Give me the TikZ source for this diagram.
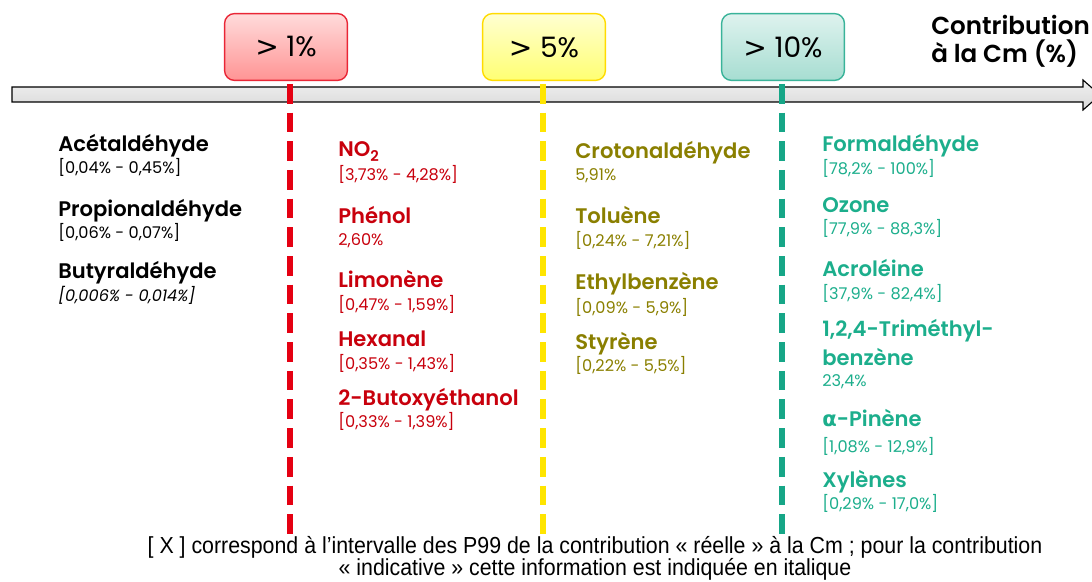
\documentclass[tikz,border=0pt]{standalone}
\usepackage{fontspec}
\setmainfont{Poppins}[BoldFont={Poppins SemiBold}]
\newfontfamily\notefont[FakeStretch=0.92]{Liberation Sans}
\newfontfamily\grecfont{DejaVu Sans}
\usetikzlibrary{positioning}

\definecolor{rougetrait}{HTML}{E50012}
\definecolor{rougetexte}{HTML}{C8000C}
\definecolor{jaunetrait}{HTML}{FFE500}
\definecolor{olivetexte}{HTML}{8A7F00}
\definecolor{verttrait}{HTML}{16A687}
\definecolor{verttexte}{HTML}{1CAE8C}

\begin{document}
\begin{tikzpicture}[x=0.025cm,y=-0.025cm]
	\tikzstyle{seuil}=[draw,line width=1pt,rounded corners=7pt,minimum width=3.07cm,minimum height=1.67cm,font=\fontsize{20}{24}\selectfont]
	\tikzstyle{nom}=[anchor=base west,inner sep=0pt,font=\bfseries\fontsize{15}{18}\selectfont]
	\tikzstyle{titre}=[anchor=base west,inner sep=0pt,font=\bfseries\fontsize{17.5}{21}\selectfont]
	\tikzstyle{val}=[anchor=base west,inner sep=0pt,font=\fontsize{11.5}{13}\selectfont]
	\tikzstyle{limite}=[line width=4.2pt,dash pattern=on 14pt off 6.4pt]
	\tikzstyle{note}=[anchor=base,inner sep=0pt,font=\notefont\fontsize{16.5}{19}\selectfont]
	
	\useasboundingbox (0,0) rectangle (1092,582);
	
	% axe
	\path[draw=black,line width=0.8pt,top color=gray!12,bottom color=gray!30]
		(12,87) -- (1083,87) -- (1083,80) -- (1100,95) -- (1083,110) -- (1083,102) -- (12,102) -- cycle;
	\node[titre] (t1) at (931,35) {Contribution};
	\node[titre] (t2) at (931,63) {à la Cm (\%)};
	
	% seuils
	\node[seuil,draw=rougetrait!85,top color=red!14,bottom color=red!42] (s1) at (286,47) {{\grecfont >} 1\%};
	\node[seuil,draw=jaunetrait!90!orange,top color=yellow!18,bottom color=yellow!55] (s2) at (544,47) {{\grecfont >} 5\%};
	\node[seuil,draw=verttrait!85,top color=verttrait!14,bottom color=verttrait!38] (s3) at (783,47) {{\grecfont >} 10\%};
	
	\coordinate (f1) at (290,535);
	\coordinate (f2) at (543,535);
	\coordinate (f3) at (782,535);
	\draw[limite,rougetrait] ([yshift=-2pt]s1.south -| f1) -- (f1);
	\draw[limite,jaunetrait] ([yshift=-2pt]s2.south -| f2) -- (f2);
	\draw[limite,verttrait] ([yshift=-2pt]s3.south -| f3) -- (f3);
	
	% < 1%
	\node[nom] (a1) at (58,152) {Acétaldéhyde};
	\node[val] (a1v) at ([yshift=-15.5pt]a1.base west) {[0,04\% - 0,45\%]};
	\node[nom] (a2) at (58,217) {Propionaldéhyde};
	\node[val] (a2v) at ([yshift=-15.5pt]a2.base west) {[0,06\% - 0,07\%]};
	\node[nom] (a3) at (58,279) {Butyraldéhyde};
	\node[val,font=\itshape\fontsize{11.5}{13}\selectfont] (a3v) at ([yshift=-16pt]a3.base west) {[0,006\% - 0,014\%]};
	
	% > 1%
	\begin{scope}[rougetexte]
	\node[nom] (b1) at (338,157) {NO\textsubscript{2}};
	\node[val] (b1v) at ([yshift=-17pt]b1.base west) {[3,73\% - 4,28\%]};
	\node[nom] (b2) at (338,224) {Phénol};
	\node[val] (b2v) at ([yshift=-15pt]b2.base west) {2,60\%};
	\node[nom] (b3) at (338,288) {Limonène};
	\node[val] (b3v) at ([yshift=-16pt]b3.base west) {[0,47\% - 1,59\%]};
	\node[nom] (b4) at (338,347) {Hexanal};
	\node[val] (b4v) at ([yshift=-16pt]b4.base west) {[0,35\% - 1,43\%]};
	\node[nom] (b5) at (338,406) {2-Butoxyéthanol};
	\node[val] (b5v) at ([yshift=-15pt]b5.base west) {[0,33\% - 1,39\%]};
	\end{scope}
	
	% > 5%
	\begin{scope}[olivetexte]
	\node[nom] (c1) at (575,159) {Crotonaldéhyde};
	\node[val] (c1v) at ([yshift=-15.5pt]c1.base west) {5,91\%};
	\node[nom] (c2) at (575,224) {Toluène};
	\node[val] (c2v) at ([yshift=-16pt]c2.base west) {[0,24\% - 7,21\%]};
	\node[nom] (c3) at (575,290) {Ethylbenzène};
	\node[val] (c3v) at ([yshift=-16.5pt]c3.base west) {[0,09\% - 5,9\%]};
	\node[nom] (c4) at (575,350) {Styrène};
	\node[val] (c4v) at ([yshift=-15.5pt]c4.base west) {[0,22\% - 5,5\%]};
	\end{scope}
	
	% > 10%
	\begin{scope}[verttexte]
	\node[nom] (d1) at (822,152) {Formaldéhyde};
	\node[val] (d1v) at ([yshift=-16pt]d1.base west) {[78,2\% - 100\%]};
	\node[nom] (d2) at (822,213) {Ozone};
	\node[val] (d2v) at ([yshift=-15.5pt]d2.base west) {[77,9\% - 88,3\%]};
	\node[nom] (d3) at (822,277) {Acroléine};
	\node[val] (d3v) at ([yshift=-16pt]d3.base west) {[37,9\% - 82,4\%]};
	\node[nom] (d4) at (822,337) {1,2,4-Triméthyl-};
	\node[nom] (d4b) at ([yshift=-20pt]d4.base west) {benzène};
	\node[val] (d4v) at ([yshift=-15.5pt]d4b.base west) {23,4\%};
	\node[nom] (d5) at (822,427) {{\grecfont α}-Pinène};
	\node[val] (d5v) at ([yshift=-18pt]d5.base west) {[1,08\% - 12,9\%]};
	\node[nom] (d6) at (822,488) {Xylènes};
	\node[val] (d6v) at ([yshift=-15.5pt]d6.base west) {[0,29\% - 17,0\%]};
	\end{scope}
	
	% note
	\node[note] (n1) at (595,554) {[ X ] correspond à l’intervalle des P99 de la contribution «~réelle~» à la Cm ; pour la contribution};
	\node[note] (n2) at (595,576) {«~indicative~» cette information est indiquée en italique};
\end{tikzpicture}
\end{document}
